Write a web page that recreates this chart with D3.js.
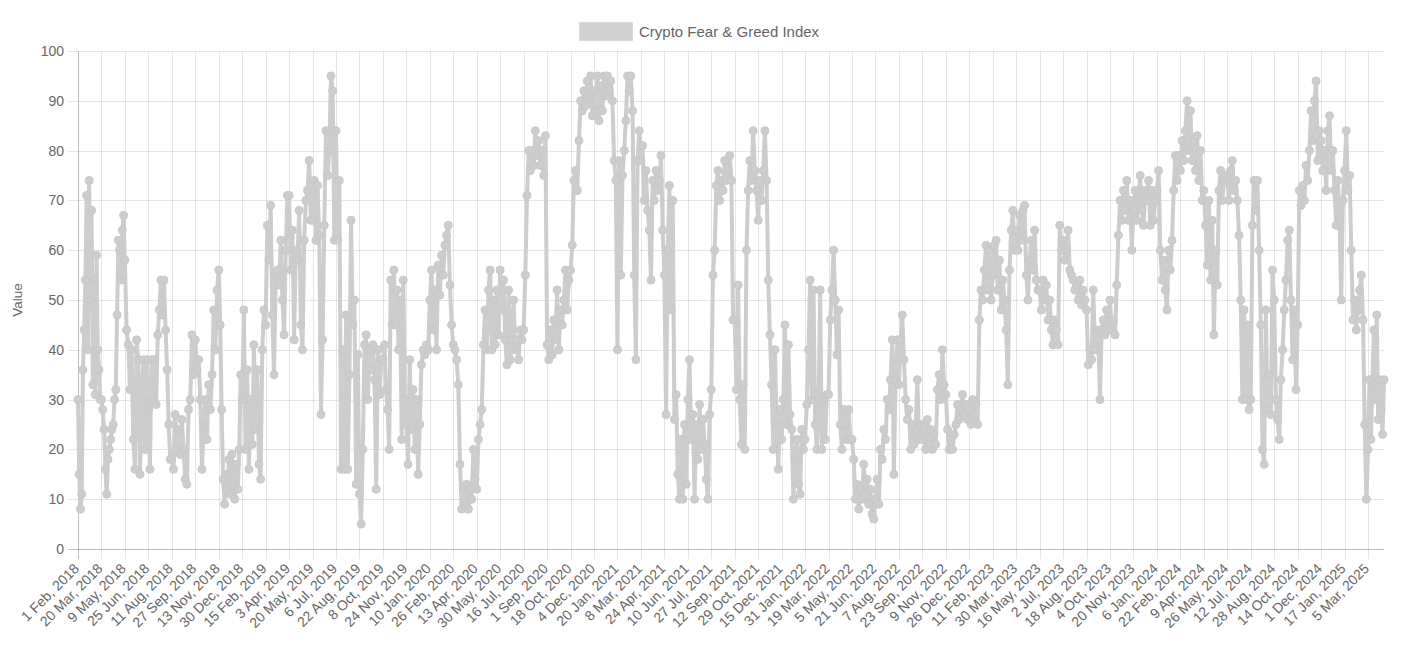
<!DOCTYPE html>
<html>
<head>
<meta charset="utf-8">
<script src="https://cdn.jsdelivr.net/npm/d3@7"></script>
<style>
  html, body { margin: 0; padding: 0; background: #ffffff; }
  svg { display: block; }
  text { font-family: "Liberation Sans", Arial, Helvetica, sans-serif; }
</style>
</head>
<body>
<svg id="chart" width="1409" height="650"></svg>
<script>
// ---------------- DATA ----------------
const seriesName = "Crypto Fear & Greed Index";
const yTitle = "Value";
const yTicks = [0, 10, 20, 30, 40, 50, 60, 70, 80, 90, 100];
const tickLabels = [
  "1 Feb, 2018","20 Mar, 2018","9 May, 2018","25 Jun, 2018","11 Aug, 2018","27 Sep, 2018","13 Nov, 2018","30 Dec, 2018",
  "15 Feb, 2019","3 Apr, 2019","20 May, 2019","6 Jul, 2019","22 Aug, 2019","8 Oct, 2019","24 Nov, 2019",
  "10 Jan, 2020","26 Feb, 2020","13 Apr, 2020","30 May, 2020","16 Jul, 2020","1 Sep, 2020","18 Oct, 2020","4 Dec, 2020",
  "20 Jan, 2021","8 Mar, 2021","24 Apr, 2021","10 Jun, 2021","27 Jul, 2021","12 Sep, 2021","29 Oct, 2021","15 Dec, 2021",
  "31 Jan, 2022","19 Mar, 2022","5 May, 2022","21 Jun, 2022","7 Aug, 2022","23 Sep, 2022","9 Nov, 2022","26 Dec, 2022",
  "11 Feb, 2023","30 Mar, 2023","16 May, 2023","2 Jul, 2023","18 Aug, 2023","4 Oct, 2023","20 Nov, 2023",
  "6 Jan, 2024","22 Feb, 2024","9 Apr, 2024","26 May, 2024","12 Jul, 2024","28 Aug, 2024","14 Oct, 2024","1 Dec, 2024",
  "17 Jan, 2025","5 Mar, 2025"
];
// values, grouped by the span between two consecutive x labels
const fg2018 = [
  [30, 15, 8, 11, 36, 44, 54, 71, 40, 74, 50, 68, 33, 54, 31, 59, 40, 36, 30],
  [30, 28, 24, 16, 11, 18, 20, 22, 24, 25, 30, 32, 47, 62, 60, 54, 64, 67],
  [58, 44, 41, 32, 40, 22, 16, 42, 38, 15, 30, 38, 20, 38],
  [28, 16, 38, 30, 38, 29, 43, 48, 54, 47, 54, 44, 36, 25, 18],
  [18, 16, 27, 20, 24, 19, 26, 20, 14, 13, 28, 30, 43, 35],
  [42, 36, 38, 30, 16, 25, 30, 22, 33, 28, 35, 48, 40, 52],
  [56, 45, 28, 14, 9, 15, 12, 18, 11, 19, 14, 10, 17, 12, 20, 35],
  [30, 48, 20, 36, 16, 30, 21, 41, 24, 36, 17, 14, 40, 48]
];
const fg2019 = [
  [45, 65, 58, 69, 47, 35, 55, 56, 53, 62, 50, 43, 60, 71],
  [71, 56, 64, 42, 60, 58, 68, 45, 40, 62, 70, 72, 78, 66],
  [66, 74, 62, 73, 63, 27, 42, 65, 84, 75, 80, 95, 92, 62],
  [84, 62, 74, 16, 40, 16, 47, 16, 35, 66, 45, 50, 13, 39],
  [11, 5, 20, 41, 43, 30, 40, 36, 41, 34, 12, 40, 31, 38],
  [38, 41, 32, 28, 20, 54, 45, 56, 45, 52, 40, 50, 22, 54, 30],
  [25, 17, 38, 24, 32, 20, 30, 15, 25, 37, 40, 39, 41, 40]
];
const fg2020 = [
  [50, 56, 44, 52, 40, 57, 51, 59, 55, 61, 63, 65, 53, 45],
  [41, 40, 38, 33, 17, 8, 12, 9, 13, 8, 12, 10, 20, 14],
  [12, 22, 25, 28, 41, 48, 40, 52, 56, 40, 50, 41, 52, 43],
  [56, 48, 54, 42, 37, 52, 38, 42, 50, 40, 42, 38, 44, 42],
  [44, 55, 71, 80, 76, 80, 77, 84, 79, 82, 77, 80, 75, 83],
  [41, 38, 44, 39, 46, 42, 52, 40, 48, 45, 50, 56, 48, 54],
  [56, 61, 74, 76, 72, 82, 90, 88, 92, 89, 94, 90, 95, 87],
  [92, 88, 95, 86, 93, 88, 95, 91, 95, 92, 94, 90, 78, 74]
];
const fg2021 = [
  [40, 78, 55, 75, 80, 86, 95, 92, 95, 88, 55, 38, 78, 84],
  [78, 81, 70, 76, 68, 64, 54, 74, 70, 76, 72, 74, 79, 64],
  [55, 27, 60, 73, 48, 70, 26, 31, 15, 10, 22, 10, 25, 13],
  [30, 38, 22, 27, 10, 25, 18, 29, 20, 26, 21, 14, 10, 27],
  [32, 55, 60, 73, 76, 70, 74, 72, 78, 74, 76, 79, 74, 46],
  [46, 32, 53, 30, 21, 33, 20, 60, 72, 78, 74, 84, 76, 72],
  [66, 74, 70, 76, 84, 74, 54, 43, 33, 20, 40, 25, 16, 28],
  [22, 30, 45, 25, 41, 27, 24, 10, 18, 22, 13, 11, 24, 20]
];
const fg2022 = [
  [22, 29, 40, 54, 30, 52, 25, 20, 28, 52, 20, 30, 22, 31],
  [31, 46, 52, 60, 50, 39, 48, 25, 20, 28, 25, 22, 28, 22],
  [22, 18, 10, 13, 8, 12, 10, 17, 11, 14, 9, 12, 7, 6],
  [10, 14, 9, 20, 18, 24, 22, 30, 28, 34, 42, 15, 34, 42],
  [33, 42, 47, 38, 30, 26, 28, 20, 25, 21, 24, 34, 22, 25],
  [22, 24, 20, 26, 21, 24, 20, 23, 21, 32, 35, 30, 40, 33],
  [31, 24, 20, 22, 20, 23, 25, 29, 26, 28, 31, 27, 29, 26],
  [28, 25, 30, 26, 29, 25, 46, 52, 50, 56, 61, 52, 60, 50]
];
const fg2023 = [
  [55, 61, 62, 52, 58, 48, 54, 50, 44, 33, 56, 64, 68, 60],
  [64, 60, 67, 62, 68, 69, 55, 50, 58, 62, 56, 64, 54, 52],
  [52, 48, 54, 50, 53, 46, 50, 44, 41, 46, 44, 41, 65, 60],
  [62, 58, 60, 64, 56, 55, 54, 52, 53, 50, 54, 49, 52, 50],
  [48, 37, 40, 38, 52, 40, 44, 42, 30, 44, 46, 43, 48, 44],
  [50, 44, 46, 43, 53, 63, 70, 66, 72, 68, 74, 66, 70, 60],
  [68, 72, 66, 70, 75, 68, 65, 72, 70, 74, 65, 72, 66, 70]
];
const fg2024 = [
  [72, 76, 60, 54, 58, 52, 48, 60, 56, 62, 72, 79, 74, 79],
  [76, 82, 78, 84, 90, 80, 88, 78, 82, 76, 83, 74, 80, 70],
  [72, 65, 57, 70, 54, 66, 43, 60, 53, 72, 76, 70, 74, 75],
  [74, 70, 76, 78, 72, 74, 70, 63, 50, 30, 48, 30, 45, 28],
  [30, 65, 74, 68, 74, 60, 45, 20, 17, 48, 28, 35, 27, 56],
  [50, 30, 26, 22, 34, 40, 48, 54, 62, 64, 50, 38, 48, 32],
  [45, 72, 69, 73, 70, 77, 74, 80, 88, 82, 90, 94, 78, 84],
  [82, 76, 80, 72, 84, 87, 76, 80, 72, 65, 74, 66, 50, 70]
];
const fg2025 = [
  [76, 84, 72, 75, 60, 46, 50, 44, 48, 52, 55, 46, 25, 10],
  [20, 34, 22, 33, 44, 30, 47, 26, 34, 28, 23, 34]
];
const pointsPerLabel = 47;   // data points between two shown x labels
const lastIndex = 2617;      // index of the final data point

// ---------------- BUILD ----------------
(function () {
const spans = [].concat(fg2018, fg2019, fg2020, fg2021, fg2022, fg2023, fg2024, fg2025);
const data = [];
spans.forEach((vals, j) => {
  const start = j * pointsPerLabel;
  const isLast = j === spans.length - 1;
  vals.forEach((v, t) => {
    const idx = isLast
      ? start + (lastIndex - start) * t / (vals.length - 1)
      : start + pointsPerLabel * t / vals.length;
    data.push({ idx, v });
  });
});

const svg = d3.select("#chart");
const pLeft = 78, pRight = 1384, pTop = 51, pBottom = 549;
const x = d3.scaleLinear().domain([0, lastIndex]).range([pLeft, pRight]);
const y = d3.scaleLinear().domain([0, 100]).range([pBottom, pTop]);
const textColor = "#666666";
const gridColor = "rgba(0,0,0,0.1)";
const axisColor = "rgba(0,0,0,0.25)";

// horizontal grid
svg.append("g").selectAll("line").data(yTicks).join("line")
  .attr("x1", pLeft - 10).attr("x2", pRight)
  .attr("y1", d => Math.round(y(d)) + 0.5).attr("y2", d => Math.round(y(d)) + 0.5)
  .attr("stroke", d => d === 0 ? axisColor : gridColor).attr("stroke-width", 1);

// vertical grid
const tickIdx = tickLabels.map((_, i) => i * pointsPerLabel);
svg.append("g").selectAll("line").data(tickIdx).join("line")
  .attr("x1", d => Math.round(x(d)) + 0.5).attr("x2", d => Math.round(x(d)) + 0.5)
  .attr("y1", pTop).attr("y2", pBottom + 10)
  .attr("stroke", (d, i) => i === 0 ? axisColor : gridColor).attr("stroke-width", 1);

// y tick labels via axis
const yAxis = d3.axisLeft(y).tickValues(yTicks).tickSize(0).tickPadding(0);
const gy = svg.append("g").attr("transform", `translate(${pLeft - 14},0)`).call(yAxis);
gy.select(".domain").remove();
gy.selectAll("text").attr("fill", textColor).style("font-size", "14px")
  .style("font-family", '"Liberation Sans", Arial, sans-serif');

// x tick labels
const xAxis = d3.axisBottom(x).tickValues(tickIdx).tickSize(0)
  .tickFormat((d, i) => tickLabels[i]);
const gx = svg.append("g").attr("transform", `translate(0,${pBottom})`).call(xAxis);
gx.select(".domain").remove();
gx.selectAll("text")
  .attr("fill", textColor).style("font-size", "14px")
  .style("font-family", '"Liberation Sans", Arial, sans-serif')
  .attr("text-anchor", "end")
  .attr("x", 0).attr("y", 0).attr("dy", "0.35em")
  .attr("transform", "translate(-2,17) rotate(-45)");

// y title
svg.append("text")
  .attr("transform", `translate(22,${(pTop + pBottom) / 2}) rotate(-90)`)
  .attr("text-anchor", "middle")
  .attr("fill", textColor).style("font-size", "13.5px")
  .text(yTitle);

// legend
svg.append("rect").attr("x", 579.5).attr("y", 22.5).attr("width", 53).attr("height", 18)
  .attr("fill", "#d0d0d0").attr("stroke", "#dadada").attr("stroke-width", 1);
svg.append("text").attr("x", 639).attr("y", 36.5)
  .attr("fill", textColor).style("font-size", "15px").text(seriesName);

// line + points
const line = d3.line().x(d => x(d.idx)).y(d => y(d.v));
svg.append("path").datum(data)
  .attr("d", line).attr("fill", "none")
  .attr("stroke", "#cdcdcd").attr("stroke-width", 4).attr("stroke-linejoin", "round");
svg.append("g").selectAll("circle").data(data).join("circle")
  .attr("cx", d => x(d.idx)).attr("cy", d => y(d.v)).attr("r", 4)
  .attr("fill", "#cdcdcd").attr("stroke", "#c8c8c8").attr("stroke-width", 1);
})();
</script>
</body>
</html>
